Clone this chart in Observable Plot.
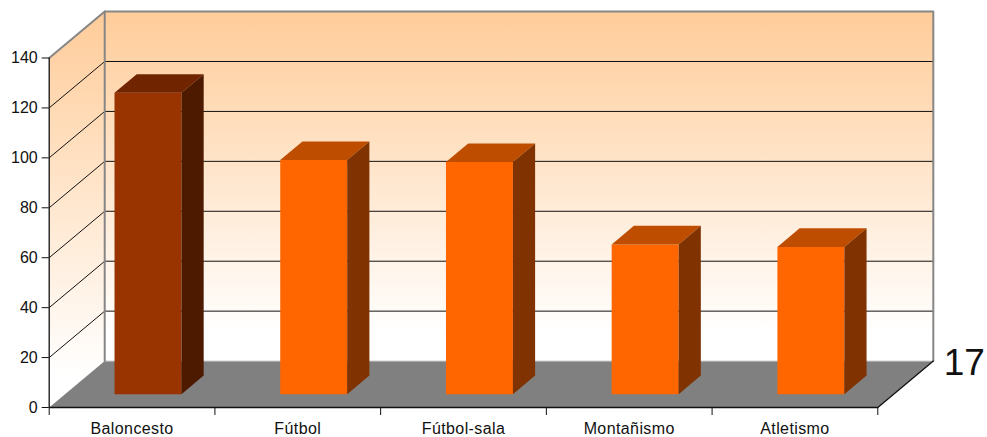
<!DOCTYPE html>
<html>
<head>
<meta charset="utf-8">
<script src="https://cdn.jsdelivr.net/npm/d3@7"></script>
<script src="https://cdn.jsdelivr.net/npm/@observablehq/plot@0.6"></script>
<style>
html,body{margin:0;padding:0;background:#fff}
svg{display:block}
.xl text{letter-spacing:.4px}
</style>
</head>
<body>
<div id="chart"></div>
<script>
const categories = ["Baloncesto", "Fútbol", "Fútbol-sala", "Montañismo", "Atletismo"];
const values = [120.7, 93.8, 93, 60, 59];
const faceColors = ["#993300", "#FF6600", "#FF6600", "#FF6600", "#FF6600"];
const topColors = ["#702500", "#BF4D00", "#BF4D00", "#BF4D00", "#BF4D00"];
const sideColors = ["#4D1A00", "#803300", "#803300", "#803300", "#803300"];
const valueTicks = [0, 20, 40, 60, 80, 100, 120, 140];
const categoryEdges = [0, 1, 2, 3, 4, 5];
const categoryCenters = [0.5, 1.5, 2.5, 3.5, 4.5];
const sideNote = ["17"];

// oblique projection: depth d (0 front .. 1 back) shifts category and value
const shiftX = 0.335, shiftY = 18.6;
const P = (c, v, d = 0) => ({x: c + d * shiftX, y: v + d * shiftY});
const barHalf = 0.202, barNear = 0.287, barFar = 0.687, yMax = 140, nCat = categories.length;

const poly = (pts, opts) => Plot.line(pts, {x: "x", y: "y", ...opts});

const defs = () => {
  const d = d3.create("svg:defs");
  const g = d.append("linearGradient").attr("id", "wall").attr("x1", 0).attr("x2", 0).attr("y1", 0).attr("y2", 1);
  g.append("stop").attr("offset", "0%").attr("stop-color", "#FFCC99");
  g.append("stop").attr("offset", "92%").attr("stop-color", "#FFFFFF");
  return d.node();
};

const barMarks = values.flatMap((v, k) => {
  const c = k + 0.5, a = c - barHalf, b = c + barHalf;
  return [
    poly([P(a, 0, barNear), P(b, 0, barNear), P(b, v, barNear), P(a, v, barNear)], {fill: faceColors[k]}),
    poly([P(a, v, barNear), P(b, v, barNear), P(b, v, barFar), P(a, v, barFar)], {fill: topColors[k]}),
    poly([P(b, 0, barNear), P(b, 0, barFar), P(b, v, barFar), P(b, v, barNear)], {fill: sideColors[k]})
  ];
});

const chart = Plot.plot({
  width: 987, height: 437,
  marginLeft: 48.7, marginRight: 109.7, marginTop: 57.5, marginBottom: 30,
  style: {fontFamily: "'Liberation Sans', Arial, sans-serif", fontSize: "16px", color: "#111", background: "#fff", overflow: "visible"},
  x: {domain: [0, nCat], label: null},
  y: {domain: [0, yMax], label: null},
  marks: [
    defs,
    // back and left walls
    poly([P(0, 0, 1), P(nCat, 0, 1), P(nCat, yMax, 1), P(0, yMax, 1)], {fill: "url(#wall)"}),
    poly([P(0, 0, 0), P(0, 0, 1), P(0, yMax, 1), P(0, yMax, 0)], {fill: "url(#wall)"}),
    // grid lines on both walls
    ...valueTicks.slice(1, -1).map(v => poly([P(0, v, 0), P(0, v, 1), P(nCat, v, 1)], {stroke: "#111", strokeWidth: 1})),
    // floor
    poly([P(0, 0, 0), P(nCat, 0, 0), P(nCat, 0, 1), P(0, 0, 1)], {fill: "#808080"}),
    poly([P(0, 0, 1), P(nCat, 0, 1)], {stroke: "#c8c8c8", strokeWidth: 1}),
    // wall borders
    poly([P(0, yMax, 0), P(0, yMax, 1), P(nCat, yMax, 1), P(nCat, 0, 1)], {stroke: "#868686", strokeWidth: 2}),
    poly([P(0, yMax, 1), P(0, 0, 1)], {stroke: "#868686", strokeWidth: 2}),
    // floor edges and front axes
    poly([P(nCat, 0, 1), P(nCat, 0, 0), P(0, 0, 0), P(0, yMax, 0)], {stroke: "#111", strokeWidth: 1.3}),
    ...barMarks,
    Plot.axisY(valueTicks, {tickSize: 7, tickPadding: 4.5, fontSize: 16, stroke: "#111", label: null}),
    Plot.axisX(categoryEdges, {tickSize: 8, tickFormat: () => "", stroke: "#111", label: null}),
    Plot.axisX(categoryCenters, {tickSize: 0, tickPadding: 15, fontSize: 16, className: "xl", tickFormat: d => categories[d - 0.5], label: null}),
    Plot.text(sideNote, {frameAnchor: "bottom-right", textAnchor: "end", lineAnchor: "bottom", dx: 107, dy: -33, fontSize: 37, fill: "#111"})
  ]
});
document.getElementById("chart").appendChild(chart);
</script>
</body>
</html>
